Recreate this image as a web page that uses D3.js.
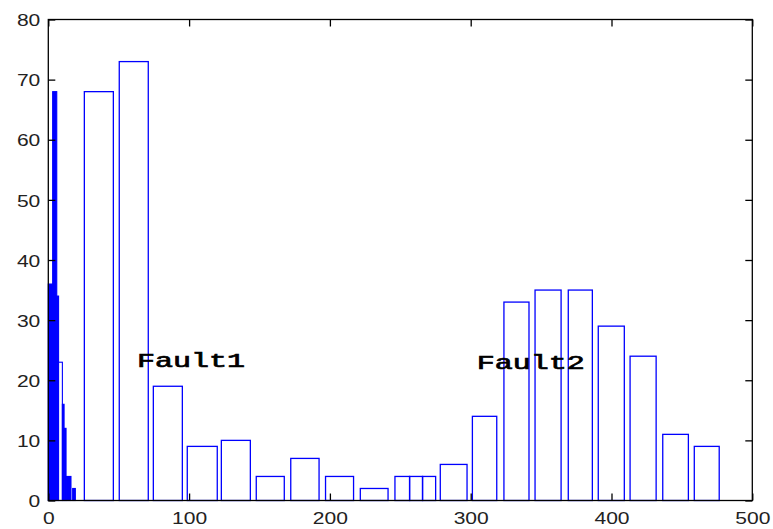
<!DOCTYPE html>
<html>
<head>
<meta charset="utf-8">
<script src="https://cdn.jsdelivr.net/npm/d3@7/dist/d3.min.js"></script>
<style>
  html, body { margin: 0; padding: 0; background: #fff; }
  svg { display: block; }
</style>
</head>
<body>
<svg id="chart" width="773" height="529"></svg>
<script>
// ---- data ----
// Fine histogram (narrow bins near zero)
const fineX0 = [0, 3.1, 6.0, 7.3, 10.0, 11.2, 12.6, 17.3];
const fineX1 = [3.1, 6.0, 7.3, 10.0, 11.2, 12.6, 16.1, 19.2];
const fineCount = [36, 68, 34, 23, 16, 12, 4, 2];

// Wide histogram bins
const wideX0 = [25.6, 50.4, 74.6, 98.7, 122.9, 147.7, 172.2, 196.9, 221.6, 246.2, 256.6, 265.8, 278.4, 301.2, 323.6, 345.7, 369.3, 390.6, 413.2, 436.4, 458.8];
const wideX1 = [46.2, 71.0, 95.2, 120.0, 143.5, 167.6, 192.3, 216.8, 241.3, 256.6, 265.8, 275.1, 297.4, 318.5, 341.4, 364.2, 386.4, 409.1, 431.7, 454.6, 476.5];
const wideCount = [68, 73, 19, 9, 10, 4, 7, 4, 2, 4, 4, 4, 6, 14, 33, 35, 35, 29, 24, 11, 9];

const xTicks = [0, 100, 200, 300, 400, 500];
const yTicks = [0, 10, 20, 30, 40, 50, 60, 70, 80];

const labelText = ["Fault1", "Fault2"];
const labelX = [63, 304.3];
const labelY = [22.2, 21.8];

(function () {
// ---- layout ----
const svg = d3.select("#chart");
const mL = 48.3, mR = 752.3, mT = 19.5, mB = 500.5;
const x = d3.scaleLinear().domain([0, 500]).range([mL, mR]);
const y = d3.scaleLinear().domain([0, 80]).range([mB, mT]);
const blue = "#0000ff";

const fine = fineCount.map((c, i) => ({x0: fineX0[i], x1: fineX1[i], c}));
const wide = wideCount.map((c, i) => ({x0: wideX0[i], x1: wideX1[i], c}));

svg.append("g").selectAll("rect").data(wide).join("rect")
  .attr("x", d => x(d.x0))
  .attr("y", d => y(d.c))
  .attr("width", d => x(d.x1) - x(d.x0))
  .attr("height", d => y(0) - y(d.c))
  .attr("fill", "none")
  .attr("stroke", blue)
  .attr("stroke-width", 1.3);

svg.append("g").selectAll("rect").data(fine).join("rect")
  .attr("x", d => x(d.x0))
  .attr("y", d => y(d.c))
  .attr("width", d => x(d.x1) - x(d.x0))
  .attr("height", d => y(0) - y(d.c))
  .attr("fill", (d, i) => i === 3 ? "#fff" : blue)
  .attr("stroke", blue)
  .attr("stroke-width", 1.1);

// frame
svg.append("rect")
  .attr("x", mL).attr("y", mT)
  .attr("width", mR - mL).attr("height", mB - mT)
  .attr("fill", "none").attr("stroke", "#000").attr("stroke-width", 1.3);

// axes with inward ticks on all sides
const tl = 7;
const fontSz = 17;
const gB = svg.append("g").attr("transform", `translate(0,${mB})`)
  .call(d3.axisBottom(x).tickValues(xTicks).tickSize(-tl).tickPadding(16));
const gT = svg.append("g").attr("transform", `translate(0,${mT})`)
  .call(d3.axisTop(x).tickValues(xTicks).tickSize(-tl).tickFormat(""));
const gL = svg.append("g").attr("transform", `translate(${mL},0)`)
  .call(d3.axisLeft(y).tickValues(yTicks).tickSize(-tl).tickPadding(8));
const gR = svg.append("g").attr("transform", `translate(${mR},0)`)
  .call(d3.axisRight(y).tickValues(yTicks).tickSize(-tl).tickFormat(""));

[gB, gT, gL, gR].forEach(g => {
  g.select(".domain").remove();
  g.selectAll(".tick line").attr("stroke", "#000").attr("stroke-width", 1.3);
  g.selectAll(".tick text")
    .attr("font-family", "'Liberation Sans', Arial, sans-serif")
    .attr("font-size", fontSz)
    .attr("fill", "#222")
    .attr("lengthAdjust", "spacingAndGlyphs")
    .attr("textLength", function() { return this.textContent.length * 11.7; });
});
gB.selectAll(".tick text").attr("dy", "0.71em").attr("y", 11);
gL.selectAll(".tick text").attr("dy", "0.36em");

// labels
svg.append("g").selectAll("text").data(labelText).join("text")
  .attr("x", (d, i) => x(labelX[i]))
  .attr("y", (d, i) => y(labelY[i]))
  .attr("font-family", "'Liberation Mono', 'Courier New', monospace")
  .attr("font-size", 20)
  .attr("fill", "#000")
  .attr("stroke", "#000")
  .attr("stroke-width", 0.7)
  .attr("lengthAdjust", "spacingAndGlyphs")
  .attr("textLength", 108)
  .text(d => d);
})();
</script>
</body>
</html>
